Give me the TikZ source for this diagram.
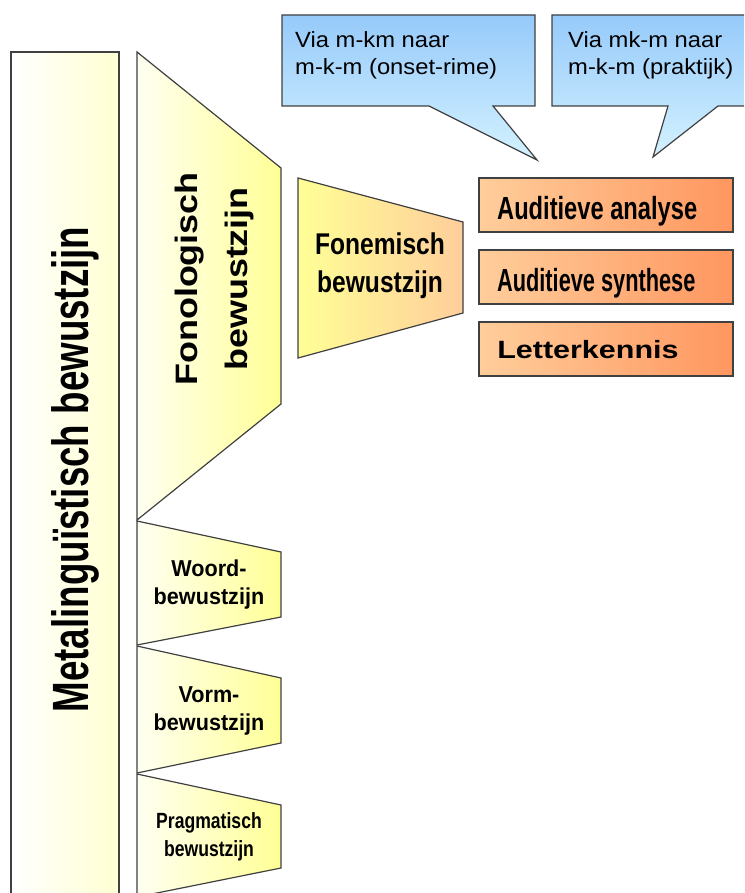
\documentclass[tikz,border=0pt]{standalone}
\usepackage{fontspec}
\setmainfont{Liberation Sans}
\usepackage{tikz}
\usetikzlibrary{calc}
\definecolor{outline}{RGB}{64,64,64}
\definecolor{paleyellow}{RGB}{255,255,210}
\definecolor{lightyellow}{RGB}{255,255,242}
\definecolor{yellowfill}{RGB}{255,255,150}
\definecolor{peach}{RGB}{255,206,155}
\definecolor{salmon}{RGB}{255,150,95}
\definecolor{skyblue}{RGB}{150,202,250}
\definecolor{iceblue}{RGB}{212,242,255}
\tikzset{
    bar/.style = {draw=outline, line width=1.2pt, left color=white, right color=paleyellow},
    wedge/.style = {draw=outline, line width=1.2pt, left color=lightyellow, right color=yellowfill},
    funnel/.style = {draw=outline, line width=1.2pt, left color=yellowfill, right color=peach},
    skill/.style = {draw=outline, line width=1.2pt, left color=peach, right color=salmon},
    balloon/.style = {draw=outline, line width=1.2pt, top color=skyblue, bottom color=iceblue},
    squeeze/.style = {xscale=#1, transform shape},
    boldtext/.style = {inner sep=0pt, align=center, font=\bfseries\fontsize{#1}{28}\selectfont},
}

\begin{document}
\begin{tikzpicture}[x=1pt, y=-1pt]
\useasboundingbox (0,0) rectangle (744,893);
\clip (0,0) rectangle (744,893);

\path[bar] (11,52) rectangle (119,897);
\node[inner sep=0pt, anchor=base, rotate=90, squeeze=0.72, font=\bfseries\fontsize{51}{60}\selectfont] (meta) at (88,469.5) {Metalinguïstisch bewustzijn};

\path[wedge] (137,52) -- (281,168) -- (281,404) -- (137,520) -- cycle;
\node[inner sep=0pt, align=center, rotate=90, squeeze=1.16, font=\bfseries\fontsize{31}{50}\selectfont] (fono) at (214,279) {Fonologisch\\bewustzijn};

\path[wedge] (137,521) -- (281,552) -- (281,617) -- (137,645) -- cycle;
\node[boldtext=23, squeeze=0.94] (woord) at (209,584.5) {Woord-\\bewustzijn};

\path[wedge] (137,646) -- (281,678) -- (281,743) -- (137,773) -- cycle;
\node[boldtext=23, squeeze=0.94] (vorm) at (209,710.5) {Vorm-\\bewustzijn};

\path[wedge] (137,774) -- (281,805) -- (281,868) -- (137,897) -- cycle;
\node[boldtext=22, squeeze=0.8] (prag) at (209,836.5) {Pragmatisch\\bewustzijn};

\path[funnel] (298,178) -- (463,222) -- (463,313) -- (298,358) -- cycle;
\node[inner sep=0pt, align=center, squeeze=0.82, font=\bfseries\fontsize{30}{38}\selectfont] (fonem) at (380,266) {Fonemisch\\bewustzijn};

\path[skill] (479,178) rectangle (733,232);
\node[inner sep=0pt, anchor=base west, squeeze=0.74, font=\bfseries\fontsize{32}{38}\selectfont] (analyse) at (497,220) {Auditieve analyse};

\path[skill] (479,250) rectangle (733,304);
\node[inner sep=0pt, anchor=base west, squeeze=0.68, font=\bfseries\fontsize{32}{38}\selectfont] (synthese) at (497,291) {Auditieve synthese};

\path[skill] (479,322) rectangle (733,376);
\node[inner sep=0pt, anchor=base west, squeeze=1.22, font=\bfseries\fontsize{25}{30}\selectfont] (letters) at (497,358) {Letterkennis};

\path[balloon] (282,15) -- (535,15) -- (535,106) -- (493,106) -- (537,160) -- (429,106) -- (282,106) -- cycle;
\node[inner sep=0pt, align=left, anchor=north west, squeeze=1.08, font=\fontsize{22}{27}\selectfont] (onset) at (295,31) {Via m-km naar\\m-k-m (onset-rime)};

\path[balloon] (552,15) -- (760,15) -- (760,106) -- (718,106) -- (653,157) -- (668,106) -- (552,106) -- cycle;
\node[inner sep=0pt, align=left, anchor=north west, squeeze=1.08, font=\fontsize{22}{27}\selectfont] (praktijk) at (568,31) {Via mk-m naar\\m-k-m (praktijk)};
\end{tikzpicture}
\end{document}
